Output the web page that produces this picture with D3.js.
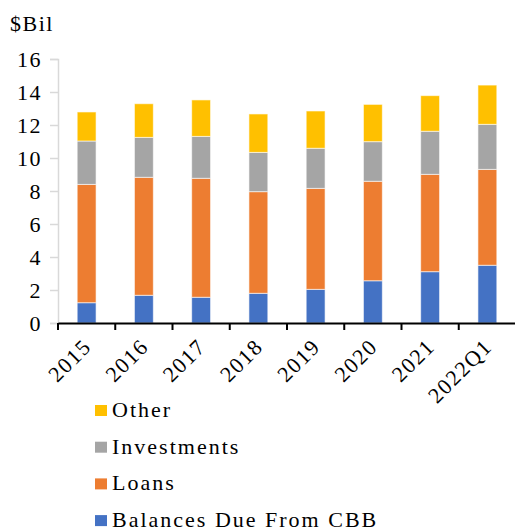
<!DOCTYPE html>
<html>
<head>
<meta charset="utf-8">
<script src="https://d3js.org/d3.v7.min.js"></script>
<style>
body { margin: 0; background: #fff; }
</style>
</head>
<body>
<svg id="vis" width="515" height="531"></svg>
<script>
// values, $ billions
var years = ["2015", "2016", "2017", "2018", "2019", "2020", "2021", "2022Q1"];
var balances = [1.23, 1.68, 1.56, 1.80, 2.04, 2.56, 3.11, 3.50];
var loans = [7.17, 7.15, 7.21, 6.16, 6.12, 6.03, 5.90, 5.81];
var investments = [2.63, 2.42, 2.54, 2.38, 2.43, 2.40, 2.61, 2.73];
var other = [1.76, 2.04, 2.21, 2.33, 2.26, 2.26, 2.16, 2.38];
var yTicks = [0, 2, 4, 6, 8, 10, 12, 14, 16];

var seriesNames = ["Balances Due From CBB", "Loans", "Investments", "Other"];
var colors = ["#4472C4", "#ED7D31", "#A5A5A5", "#FFC000"];

var FONT = "'Liberation Serif'";

var rows = years.map(function(y, i) {
  return { year: y, "Balances Due From CBB": balances[i], "Loans": loans[i],
           "Investments": investments[i], "Other": other[i] };
});

var svg = d3.select("#vis");

var x = d3.scaleBand().domain(years).range([58, 516]).paddingInner(0.67).paddingOuter(0.335);
var y = d3.scaleLinear().domain([0, 16]).range([323, 59]);
var color = d3.scaleOrdinal().domain(seriesNames).range(colors);

var stacked = d3.stack().keys(seriesNames)(rows);

// bars
svg.append("g").selectAll("g")
  .data(stacked)
  .enter().append("g")
  .attr("fill", function(d) { return color(d.key); })
  .selectAll("rect")
  .data(function(d) { return d; })
  .enter().append("rect")
  .attr("x", function(d) { return x(d.data.year); })
  .attr("width", x.bandwidth())
  .attr("y", function(d) { return y(d[1]); })
  .attr("height", function(d) { return y(d[0]) - y(d[1]); })
  .attr("stroke", "#fff")
  .attr("stroke-opacity", 0.6)
  .attr("stroke-width", 1);

// y axis
var yAxis = svg.append("g")
  .attr("transform", "translate(58,0)")
  .call(d3.axisLeft(y).tickValues(yTicks).tickSize(8).tickPadding(8));
yAxis.attr("font-family", null).attr("font-size", null);
yAxis.select(".domain").attr("stroke", "#d9d9d9").attr("stroke-width", 1.5);
yAxis.selectAll(".tick line").attr("stroke", "#d9d9d9").attr("stroke-width", 1.5);
yAxis.selectAll("text")
  .style("font-family", FONT)
  .style("font-size", "22px")
  .style("letter-spacing", "1.5px")
  .attr("fill", "#000");

// x axis
var xAxis = svg.append("g")
  .attr("transform", "translate(0,323)")
  .call(d3.axisBottom(x).tickSize(0).tickPadding(0));
xAxis.attr("font-family", null).attr("font-size", null);
xAxis.select(".domain").attr("stroke", "#000").attr("stroke-width", 2);
xAxis.selectAll("text")
  .style("font-family", FONT)
  .style("font-size", "22px")
  .style("letter-spacing", "1.5px")
  .attr("fill", "#000")
  .attr("text-anchor", "end")
  .attr("dy", 0)
  .attr("transform", "translate(6,25) rotate(-45)");

// boundary ticks between categories
var step = x.step();
svg.append("g").selectAll("line")
  .data(years)
  .enter().append("line")
  .attr("x1", function(d) { return x(d) + x.bandwidth() / 2 - step / 2; })
  .attr("x2", function(d) { return x(d) + x.bandwidth() / 2 - step / 2; })
  .attr("y1", 323)
  .attr("y2", 330)
  .attr("stroke", "#000")
  .attr("stroke-width", 2);

// unit label
svg.append("text")
  .attr("x", 10)
  .attr("y", 31)
  .style("font-family", FONT)
  .style("font-size", "22px")
  .style("letter-spacing", "1.5px")
  .text("$Bil");

// legend, top to bottom in reverse stack order
var legendItems = seriesNames.slice().reverse();
var legend = svg.append("g").selectAll("g")
  .data(legendItems)
  .enter().append("g")
  .attr("transform", function(d, i) { return "translate(95," + (417 + i * 36.7) + ")"; });
legend.append("rect")
  .attr("x", 0).attr("y", -12)
  .attr("width", 12).attr("height", 11)
  .attr("fill", function(d) { return color(d); });
legend.append("text")
  .attr("x", 17)
  .attr("y", 0)
  .style("font-family", FONT)
  .style("font-size", "22px")
  .style("letter-spacing", "2px")
  .text(function(d) { return d; });
</script>
</body>
</html>
